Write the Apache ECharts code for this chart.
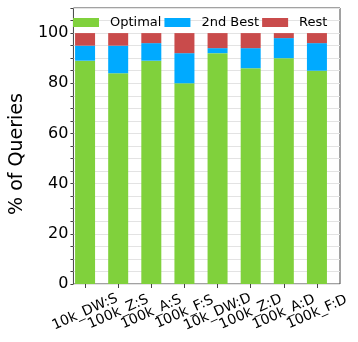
<!DOCTYPE html>
<html>
<head>
<meta charset="utf-8">
<script src="https://cdn.jsdelivr.net/npm/echarts@6/dist/echarts.min.js"></script>
<style>
  html, body { margin: 0; padding: 0; background: #fff; }
  #chart { width: 358px; height: 342px; }
</style>
</head>
<body>
<div id="chart"></div>
<script>
// 数据
var categories = ['10k_DW:S', '100k_Z:S', '100k_A:S', '100k_F:S', '10k_DW:D', '100k_Z:D', '100k_A:D', '100k_F:D'];
var optimalData = [89, 84, 89, 80, 92, 86, 90, 85];
var secondBestData = [6, 11, 7, 12, 2, 8, 8, 11];
var restData = [5, 5, 4, 8, 6, 6, 2, 4];
var seriesNames = ['Optimal', '2nd Best', 'Rest'];
var colors = ['#80d13c', '#00aaff', '#c94b4b'];

var font = 'DejaVu Sans';
var chart = echarts.init(document.getElementById('chart'));

var option = {
  animation: false,
  color: colors,
  textStyle: { fontFamily: font },
  legend: {
    data: seriesNames,
    left: 73,
    top: 16,
    padding: 0,
    icon: 'rect',
    itemWidth: 26,
    itemHeight: 9,
    itemGap: 3,
    textStyle: { fontSize: 13, color: '#000', fontFamily: font, padding: [0, 0, 0, 6] }
  },
  grid: [
    // 外框 + y轴
    { left: 62, right: 18, top: 8, bottom: 58, show: true, borderColor: '#444', borderWidth: 1, containLabel: false },
    // 柱子
    { left: 68.5, right: 24.5, top: 8, bottom: 58, containLabel: false }
  ],
  xAxis: [
    { gridIndex: 0, type: 'value', show: false, min: 0, max: 1 },
    {
      gridIndex: 1,
      type: 'category',
      data: categories,
      axisLine: { show: false },
      axisTick: { show: true, alignWithLabel: true, length: 4, lineStyle: { color: '#444' } },
      axisLabel: {
        interval: 0,
        rotate: 24,
        align: 'center',
        verticalAlign: 'middle',
        margin: 28,
        fontSize: 14,
        color: '#000',
        fontFamily: font
      }
    }
  ],
  yAxis: [
    {
      gridIndex: 0,
      type: 'value',
      min: 0,
      max: 110,
      interval: 5,
      name: '% of Queries',
      nameLocation: 'middle',
      nameGap: 38,
      nameTextStyle: { fontSize: 19, color: '#000', fontFamily: font, padding: [0, 16, 0, 0] },
      axisLine: { show: false },
      axisTick: { show: true, length: 3, lineStyle: { color: '#444' } },
      axisLabel: {
        fontSize: 16,
        color: '#000',
        margin: 5,
        fontFamily: font,
        formatter: function (v) { return v % 20 === 0 && v <= 100 ? String(v) : ''; }
      },
      splitLine: { show: true, lineStyle: { color: '#e3e3e3', width: 1 } }
    },
    { gridIndex: 1, type: 'value', min: 0, max: 110, show: false, splitLine: { show: false } }
  ],
  series: [
    { name: seriesNames[0], type: 'bar', stack: 'q', xAxisIndex: 1, yAxisIndex: 1, barWidth: 20, data: optimalData },
    { name: seriesNames[1], type: 'bar', stack: 'q', xAxisIndex: 1, yAxisIndex: 1, barWidth: 20, data: secondBestData },
    { name: seriesNames[2], type: 'bar', stack: 'q', xAxisIndex: 1, yAxisIndex: 1, barWidth: 20, data: restData }
  ]
};

chart.setOption(option);
</script>
</body>
</html>
